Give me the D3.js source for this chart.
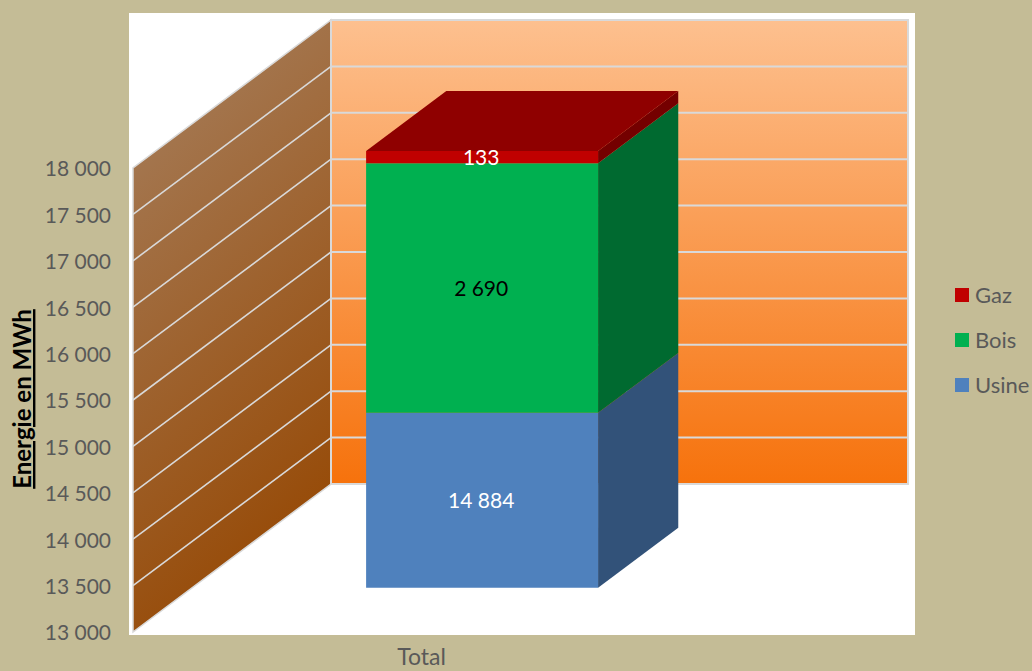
<!DOCTYPE html>
<html>
<head>
<meta charset="utf-8">
<script src="https://cdn.jsdelivr.net/npm/d3@7"></script>
<style>
  html, body { margin: 0; padding: 0; background: #C4BC96; overflow: hidden; }
  text { font-family: Lato, "Open Sans", sans-serif; }
  .axis text { font-size: 21px; fill: #595959; }
</style>
</head>
<body>
<div id="chart"></div>
<script>
const categories = ["Total"];
const seriesNames = ["Usine", "Bois", "Gaz"];
const usineValues = [14884];
const boisValues = [2690];
const gazValues = [133];
const yTicks = [13000, 13500, 14000, 14500, 15000, 15500, 16000, 16500, 17000, 17500, 18000];

const width = 1032, height = 671;
const frenchFormat = d3.formatLocale({ decimal: ",", thousands: " ", grouping: [3], currency: ["", " €"] }).format(",d");

const svg = d3.select("#chart").append("svg")
  .attr("width", width)
  .attr("height", height)
  .style("display", "block");

const defs = svg.append("defs");

const backGradient = defs.append("linearGradient").attr("id", "backWall")
  .attr("x1", 0).attr("y1", 0).attr("x2", 0).attr("y2", 1);
backGradient.append("stop").attr("offset", "0%").attr("stop-color", "#FDC08F");
backGradient.append("stop").attr("offset", "100%").attr("stop-color", "#F6720C");

const sideGradient = defs.append("linearGradient").attr("id", "sideWall")
  .attr("x1", 0.2).attr("y1", 0).attr("x2", 0.5).attr("y2", 1);
sideGradient.append("stop").attr("offset", "0%").attr("stop-color", "#A67E5C");
sideGradient.append("stop").attr("offset", "100%").attr("stop-color", "#964803");

// white plot panel
svg.append("rect")
  .attr("x", 129).attr("y", 13)
  .attr("width", 786).attr("height", 622)
  .attr("fill", "#fff");

// front plane scales, the depth scales shift a point towards the back wall
const y = d3.scaleLinear().domain([13000, 18000]).range([632, 168]);
const x = d3.scaleBand().domain(categories).range([133, 710]).padding(0.4265);
const depthX = d3.scaleLinear().domain([0, 1]).range([0, 198]);
const depthY = d3.scaleLinear().domain([0, 1]).range([0, -148]);

function project(px, value, depth) {
  return [px + depthX(depth), y(value) + depthY(depth)];
}
function polygon(points) {
  return "M" + points.map(function (p) { return p.join(","); }).join("L") + "Z";
}

const xLeft = x.range()[0], xRight = x.range()[1];
const yMin = y.domain()[0], yMax = y.domain()[1];

// walls
svg.append("path")
  .attr("d", polygon([project(xLeft, yMin, 0), project(xLeft, yMax, 0), project(xLeft, yMax, 1), project(xLeft, yMin, 1)]))
  .attr("fill", "url(#sideWall)")
  .attr("stroke", "#D9D9D9")
  .attr("stroke-width", 1.5);
svg.append("path")
  .attr("d", polygon([project(xLeft, yMin, 1), project(xLeft, yMax, 1), project(xRight, yMax, 1), project(xRight, yMin, 1)]))
  .attr("fill", "url(#backWall)")
  .attr("stroke", "#D9D9D9")
  .attr("stroke-width", 2);

// gridlines, a bit heavier on the back wall
const grid = svg.append("g").attr("fill", "none").attr("stroke", "#D9D9D9");
yTicks.slice(1, -1).forEach(function (t) {
  grid.append("path").attr("stroke-width", 1.6)
    .attr("d", d3.line()([project(xLeft, t, 0), project(xLeft, t, 1)]));
  grid.append("path").attr("stroke-width", 2)
    .attr("d", d3.line()([project(xLeft, t, 1), project(xRight, t, 1)]));
});

// stacked bar
const barColors = {
  Usine: { front: "#4F81BD", side: "#325279" },
  Bois: { front: "#00B050", side: "#006A30" },
  Gaz: { front: "#C00000", side: "#740000" }
};
const topColor = "#8F0000";
const labelColors = { Usine: "#fff", Bois: "#000", Gaz: "#fff" };
const seriesValues = { Usine: usineValues, Bois: boisValues, Gaz: gazValues };

const table = categories.map(function (category, i) {
  const row = { category: category };
  seriesNames.forEach(function (name) { row[name] = seriesValues[name][i]; });
  return row;
});
const stacked = d3.stack().keys(seriesNames)(table);

const barDepthStart = 0.304, barDepthEnd = 0.709;
const bars = svg.append("g").attr("transform", "translate(0.4,0.7)");

stacked.forEach(function (layer) {
  const name = layer.key;
  layer.forEach(function (d) {
    const x0 = x(d.data.category), x1 = x0 + x.bandwidth();
    // the bar starts at the 13 000 floor, the axis does not begin at zero
    const low = Math.max(d[0], yMin), high = d[1];
    bars.append("path")
      .attr("d", polygon([project(x1, low, barDepthStart), project(x1, high, barDepthStart), project(x1, high, barDepthEnd), project(x1, low, barDepthEnd)]))
      .attr("fill", barColors[name].side);
    bars.append("path")
      .attr("d", polygon([project(x0, low, barDepthStart), project(x0, high, barDepthStart), project(x1, high, barDepthStart), project(x1, low, barDepthStart)]))
      .attr("fill", barColors[name].front);
  });
});

const topLayer = stacked[stacked.length - 1];
topLayer.forEach(function (d) {
  const x0 = x(d.data.category), x1 = x0 + x.bandwidth();
  bars.append("path")
    .attr("d", polygon([project(x0, d[1], barDepthStart), project(x1, d[1], barDepthStart), project(x1, d[1], barDepthEnd), project(x0, d[1], barDepthEnd)]))
    .attr("fill", topColor);
});

// data labels
stacked.forEach(function (layer) {
  layer.forEach(function (d) {
    const center = x(d.data.category) + x.bandwidth() / 2;
    const p = project(center, (Math.max(d[0], yMin) + d[1]) / 2, barDepthStart);
    svg.append("text")
      .attr("x", p[0] - 0.5)
      .attr("y", p[1] + 1)
      .attr("dy", "0.35em")
      .attr("text-anchor", "middle")
      .attr("font-size", 21)
      .attr("fill", labelColors[layer.key])
      .text(frenchFormat(d.data[layer.key]));
  });
});

// axes
const yAxis = svg.append("g")
  .attr("class", "axis")
  .attr("transform", "translate(133,0)")
  .call(d3.axisLeft(y).tickValues(yTicks).tickFormat(frenchFormat).tickSize(0).tickPadding(22));
yAxis.select(".domain").remove();
yAxis.selectAll("text").attr("dy", "0.38em");

const xAxis = svg.append("g")
  .attr("class", "axis")
  .attr("transform", "translate(0,642)")
  .call(d3.axisBottom(x).tickSize(0).tickPadding(7));
xAxis.select(".domain").remove();
xAxis.selectAll("text").style("font-size", "23px");

svg.append("text")
  .attr("transform", "translate(31,399) rotate(-90)")
  .attr("text-anchor", "middle")
  .attr("font-size", 24)
  .attr("font-weight", "bold")
  .attr("text-decoration", "underline")
  .attr("fill", "#000")
  .text("Energie en MWh");

// legend
const legendRows = seriesNames.slice().reverse();
const legendY = d3.scalePoint().domain(legendRows).range([295, 385]);
const legend = svg.append("g").selectAll("g")
  .data(legendRows)
  .enter().append("g")
  .attr("transform", function (d) { return "translate(955," + legendY(d) + ")"; });
legend.append("rect")
  .attr("x", 0).attr("y", -7)
  .attr("width", 14).attr("height", 14)
  .attr("fill", function (d) { return barColors[d].front; });
legend.append("text")
  .attr("x", 20)
  .attr("dy", "0.35em")
  .attr("font-size", 22)
  .attr("fill", "#595959")
  .text(function (d) { return d; });
</script>
</body>
</html>
